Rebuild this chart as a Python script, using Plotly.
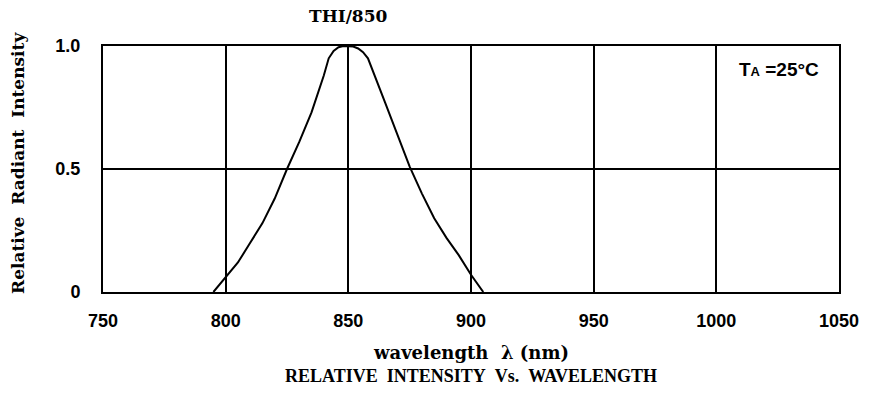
import plotly.graph_objects as go

wavelength = [795, 800, 805, 810, 815, 820, 825, 830, 835, 840, 842, 844, 846, 848, 850,
              852, 854, 856, 858, 860, 865, 870, 875, 880, 885, 890, 895, 900, 905]
intensity = [0, 0.06, 0.12, 0.20, 0.28, 0.38, 0.50, 0.61, 0.73, 0.88, 0.95, 0.98, 0.995, 1.0, 1.0,
             0.998, 0.99, 0.975, 0.95, 0.90, 0.77, 0.64, 0.51, 0.40, 0.30, 0.22, 0.15, 0.07, 0]

x_ticks = [750, 800, 850, 900, 950, 1000, 1050]
x_tick_labels = ["750", "800", "850", "900", "950", "1000", "1050"]
y_ticks = [0, 0.5, 1.0]
y_tick_labels = ["0", "0.5", "1.0"]

serif = "DejaVu Serif"
sans = "Liberation Sans"

fig = go.Figure()
fig.add_trace(go.Scatter(x=wavelength, y=intensity, mode="lines",
                         line=dict(color="black", width=2), showlegend=False,
                         cliponaxis=False))

fig.update_layout(
    width=869, height=400,
    margin=dict(l=103, r=30, t=46, b=108, autoexpand=False),
    paper_bgcolor="white", plot_bgcolor="white",
    xaxis=dict(range=[750, 1050], tickvals=x_ticks, ticktext=x_tick_labels,
               showgrid=True, gridcolor="black", gridwidth=2,
               showline=True, linecolor="black", linewidth=2, mirror=True,
               zeroline=False, ticks="", ticklabelstandoff=11,
               tickfont=dict(family=sans, size=18, color="black", weight="bold")),
    yaxis=dict(range=[0, 1], tickvals=y_ticks, ticktext=y_tick_labels,
               showgrid=True, gridcolor="black", gridwidth=2,
               showline=True, linecolor="black", linewidth=2, mirror=True,
               zeroline=False, ticks="", ticklabelstandoff=17,
               tickfont=dict(family=sans, size=18, color="black", weight="bold")),
    annotations=[
        dict(text="THI/850", xref="x", yref="paper", x=850, y=1, yshift=30,
             xanchor="center", yanchor="middle", showarrow=False,
             font=dict(family=serif, size=17, color="black", weight="bold")),
        dict(text="T<span style='font-size:13px'>A</span> =25°C", xref="paper", yref="paper",
             x=0.918, y=1, yshift=-23, xanchor="center", yanchor="middle", showarrow=False,
             font=dict(family=sans, size=19, color="black", weight="bold")),
        dict(text="wavelength\u00a0\u00a0λ\u00a0(nm)", xref="paper", yref="paper", x=0.5, y=0,
             yshift=-60, xanchor="center", yanchor="middle", showarrow=False,
             font=dict(family=serif, size=18, color="black", weight="bold")),
        dict(text="RELATIVE\u00a0\u00a0INTENSITY\u00a0\u00a0Vs.\u00a0\u00a0WAVELENGTH", xref="paper",
             yref="paper", x=0.5, y=0, yshift=-84, xanchor="center", yanchor="middle",
             showarrow=False,
             font=dict(family="Liberation Serif", size=18, color="black", weight="bold")),
        dict(text="Relative\u00a0\u00a0Radiant\u00a0\u00a0Intensity", xref="paper", yref="paper",
             x=0, xshift=-85, y=0.5, yshift=6, textangle=-90, xanchor="center", yanchor="middle",
             showarrow=False,
             font=dict(family=serif, size=17, color="black", weight="bold")),
    ],
)

fig.write_html("out.html", config={"displayModeBar": False},
               post_script="document.body.style.margin='0px';")
